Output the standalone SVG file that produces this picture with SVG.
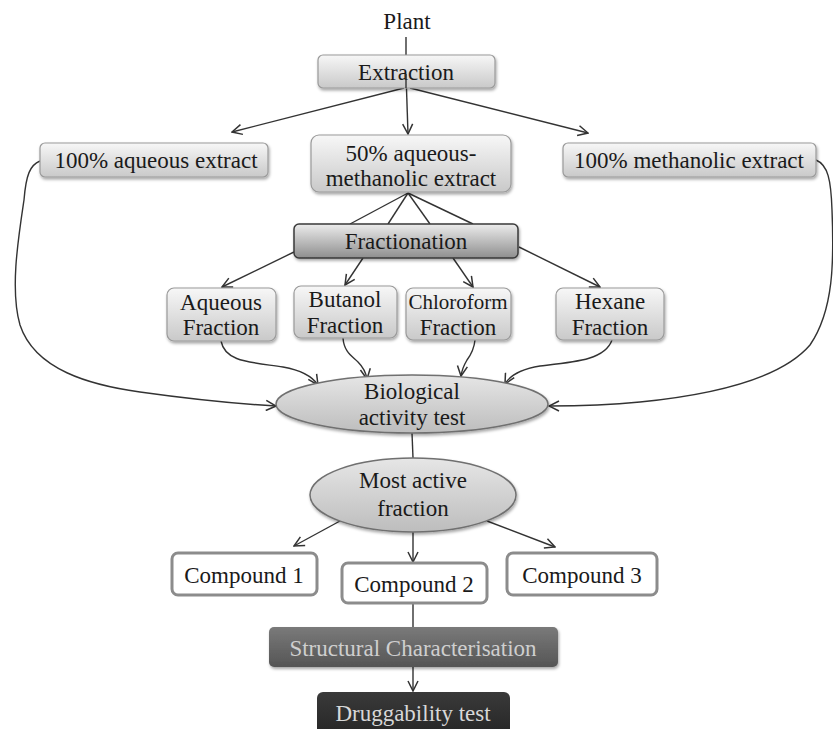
<svg xmlns="http://www.w3.org/2000/svg" width="833" height="729" viewBox="0 0 833 729">
<defs>
<linearGradient id="gLight" x1="0" y1="0" x2="0" y2="1">
<stop offset="0" stop-color="#f7f7f7"/><stop offset="1" stop-color="#c9c9c9"/>
</linearGradient>
<linearGradient id="gMid" x1="0" y1="0" x2="0" y2="1">
<stop offset="0" stop-color="#ececec"/><stop offset="1" stop-color="#8e8e8e"/>
</linearGradient>
<linearGradient id="gEll" x1="0" y1="0" x2="0" y2="1">
<stop offset="0" stop-color="#e6e6e6"/><stop offset="1" stop-color="#bdbdbd"/>
</linearGradient>
<linearGradient id="gStruct" x1="0" y1="0" x2="0" y2="1">
<stop offset="0" stop-color="#7a7a7a"/><stop offset="1" stop-color="#555"/>
</linearGradient>
<linearGradient id="gDrug" x1="0" y1="0" x2="0" y2="1">
<stop offset="0" stop-color="#3a3a3a"/><stop offset="1" stop-color="#222"/>
</linearGradient>
<filter id="sh" x="-10%" y="-20%" width="120%" height="160%">
<feDropShadow dx="1" dy="2" stdDeviation="1.5" flood-color="#000" flood-opacity="0.35"/>
</filter>
<marker id="arr" viewBox="0 0 12 12" refX="11" refY="6" markerWidth="12" markerHeight="12" markerUnits="userSpaceOnUse" orient="auto">
<path d="M1,1 L11,6 L1,11" fill="none" stroke="#333" stroke-width="1.5"/>
</marker>
<style>
text{font-family:"Liberation Serif","Times New Roman",serif;font-size:23px;fill:#1a1a1a;text-anchor:middle}
.box{fill:url(#gLight);stroke:#9a9a9a;stroke-width:1.2;filter:url(#sh)}
.mid{fill:url(#gMid);stroke:#3a3a3a;stroke-width:1.5;filter:url(#sh)}
.ell{fill:url(#gEll);stroke:#707070;stroke-width:1.5;filter:url(#sh)}
.cmp{fill:#fff;stroke:#8c8c8c;stroke-width:3}
.c{fill:none;stroke:#333;stroke-width:1.4}
.a{marker-end:url(#arr)}
</style>
</defs>
<g id="connectors">
<line class="c" x1="406" y1="37" x2="406" y2="56"/>
<line class="c a" x1="406" y1="74" x2="408" y2="134"/>
<line class="c a" x1="404" y1="88" x2="232" y2="132"/>
<line class="c a" x1="410" y1="88" x2="588" y2="133"/>
<line class="c" x1="408" y1="193" x2="350" y2="224"/>
<line class="c" x1="408" y1="193" x2="388" y2="224"/>
<line class="c" x1="408" y1="193" x2="430" y2="224"/>
<line class="c" x1="408" y1="193" x2="473" y2="224"/>
<line class="c a" x1="294" y1="252" x2="222" y2="287"/>
<line class="c a" x1="363" y1="258" x2="345" y2="285"/>
<line class="c a" x1="453" y1="258" x2="473" y2="287"/>
<line class="c a" x1="519" y1="247" x2="600" y2="287"/>
<path class="c a" d="M221,341 C225,362 250,362 283,367 C300,370 312,376 318,385"/>
<path class="c a" d="M343,338 C344,352 352,356 358,362 C363,367 366,373 367,379"/>
<path class="c a" d="M475,340 C474,350 470,356 467,360 C464,365 462,369 461,376"/>
<path class="c a" d="M612,340 C605,360 575,362 540,366 C522,369 510,375 505,384"/>
<path class="c a" d="M40,161 C30,165 26,175 24,200 C18,240 10,290 20,325 C35,370 90,385 140,392 C190,399 240,404 276,406"/>
<path class="c a" d="M816,160 C828,165 831,180 832,210 C834,260 834,310 810,345 C780,380 710,395 640,402 C600,406 570,406 549,406"/>
<line class="c" x1="412" y1="433" x2="413" y2="458"/>
<line class="c a" x1="340" y1="521" x2="294" y2="546"/>
<line class="c a" x1="413" y1="532" x2="413" y2="562"/>
<line class="c a" x1="487" y1="521" x2="555" y2="547"/>
<line class="c" x1="413" y1="604" x2="413" y2="627"/>
<line class="c a" x1="413" y1="667" x2="413" y2="691"/>
</g>
<g id="plant"><text x="407" y="29">Plant</text></g>
<g id="extraction"><rect class="box" x="318" y="55" width="177" height="33" rx="5"/><text x="406" y="80">Extraction</text></g>
<line class="c" x1="406" y1="74" x2="406" y2="88"/>
<g id="aqueous-extract"><rect class="box" x="40" y="143" width="228" height="34" rx="5"/><text x="156" y="168">100% aqueous extract</text></g>
<g id="mixed-extract"><rect class="box" x="311" y="135" width="200" height="57" rx="8"/><text x="411" y="161">50% aqueous-</text><text x="411" y="186">methanolic  extract</text></g>
<g id="methanolic-extract"><rect class="box" x="563" y="143" width="253" height="34" rx="5"/><text x="689" y="168">100% methanolic  extract</text></g>
<g id="fractionation"><rect class="mid" x="294" y="224" width="224" height="34" rx="5"/><text x="406" y="249">Fractionation</text></g>
<g id="aqueous-fraction"><rect class="box" x="167" y="288" width="109" height="53" rx="7"/><text x="221" y="310">Aqueous</text><text x="221" y="335">Fraction</text></g>
<g id="butanol-fraction"><rect class="box" x="294" y="286" width="103" height="52" rx="7"/><text x="345" y="307">Butanol</text><text x="345" y="333">Fraction</text></g>
<g id="chloroform-fraction"><rect class="box" x="406" y="288" width="105" height="52" rx="7"/><text x="458" y="309" style="font-size:21px">Chloroform</text><text x="458" y="335">Fraction</text></g>
<g id="hexane-fraction"><rect class="box" x="556" y="288" width="108" height="52" rx="7"/><text x="610" y="309">Hexane</text><text x="610" y="335">Fraction</text></g>
<g id="bio-test"><ellipse class="ell" cx="412" cy="404" rx="136" ry="29"/><text x="412" y="399">Biological</text><text x="412" y="425">activity  test</text></g>
<g id="most-active"><ellipse class="ell" cx="413" cy="495" rx="103" ry="37"/><text x="413" y="488">Most active</text><text x="413" y="516">fraction</text></g>
<g id="compound1"><rect class="cmp" x="172" y="553" width="145" height="42" rx="6"/><text x="244" y="583">Compound 1</text></g>
<g id="compound2"><rect class="cmp" x="342" y="563" width="145" height="40" rx="6"/><text x="414" y="592">Compound 2</text></g>
<g id="compound3"><rect class="cmp" x="507" y="553" width="150" height="42" rx="6"/><text x="582" y="583">Compound 3</text></g>
<g id="structural"><rect x="269" y="627" width="289" height="40" rx="5" fill="url(#gStruct)" filter="url(#sh)"/><text x="413" y="656" style="fill:#cfcfcf">Structural  Characterisation</text></g>
<g id="druggability"><rect x="317" y="692" width="193" height="50" rx="6" fill="url(#gDrug)"/><text x="413" y="721" style="fill:#d8d8d8">Druggability  test</text></g>
</svg>
